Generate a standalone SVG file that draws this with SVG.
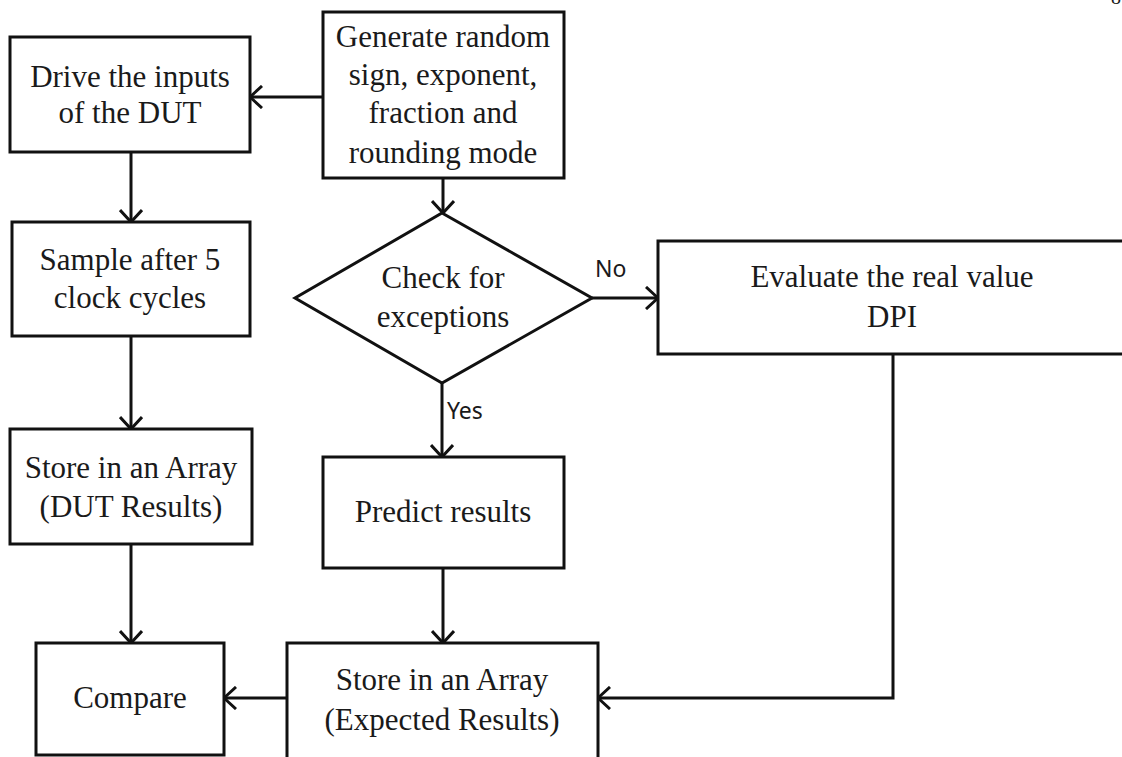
<svg xmlns="http://www.w3.org/2000/svg" width="1122" height="757" viewBox="0 0 1122 757">
  <style>
    .box { fill: #ffffff; stroke: #111111; stroke-width: 3; }
    .lbl { font-family: "Liberation Serif", "Times New Roman", serif; font-size: 31px; fill: #1a1a1a; text-anchor: middle; }
    .tag { font-family: "Noto Sans", "Open Sans", sans-serif; font-size: 23px; fill: #1a1a1a; }
    .wire { fill: none; stroke: #111111; stroke-width: 3; marker-end: url(#open); }
    .plain { fill: none; stroke: #111111; stroke-width: 3; }
  </style>
  <defs>
    <marker id="open" viewBox="0 0 14 24" refX="13" refY="12" markerWidth="14" markerHeight="24" markerUnits="userSpaceOnUse" orient="auto">
      <path d="M1,1 L13,12 L1,23" fill="none" stroke="#111111" stroke-width="3"/>
    </marker>
  </defs>

  <rect width="1122" height="757" fill="#ffffff"/>

  <!-- page number fragment -->
  <text x="1116" y="4" font-family="Liberation Serif, serif" font-size="20" fill="#1a1a1a" text-anchor="middle">8</text>

  <g id="connectors">
    <path class="wire" d="M323,97 L250,97"/>
    <path class="wire" d="M131,152 L131,222"/>
    <path class="wire" d="M131,336 L131,429"/>
    <path class="wire" d="M131,544 L131,643"/>
    <path class="wire" d="M443,178 L443,213"/>
    <path class="wire" d="M592,298 L658,298"/>
    <path class="wire" d="M442,383 L442,457"/>
    <path class="wire" d="M443,568 L443,643"/>
    <path class="wire" d="M893,354 L893,698 L598,698"/>
    <path class="wire" d="M287,698 L224,698"/>
    <text class="tag" x="595" y="277">No</text>
    <text class="tag" x="447" y="419">Yes</text>
  </g>

  <g id="drive">
    <rect class="box" x="10" y="37" width="240" height="115"/>
    <text class="lbl" x="130" y="87">Drive the inputs</text>
    <text class="lbl" x="130" y="123">of the DUT</text>
  </g>

  <g id="generate">
    <rect class="box" x="323" y="12" width="241" height="166"/>
    <text class="lbl" x="443" y="47">Generate random</text>
    <text class="lbl" x="443" y="85">sign, exponent,</text>
    <text class="lbl" x="443" y="123">fraction and</text>
    <text class="lbl" x="443" y="163">rounding mode</text>
  </g>

  <g id="sample">
    <rect class="box" x="12" y="222" width="238" height="114"/>
    <text class="lbl" x="130" y="270">Sample after 5</text>
    <text class="lbl" x="130" y="308">clock cycles</text>
  </g>

  <g id="check">
    <polygon class="box" points="442,213 592,298 442,383 295,298"/>
    <text class="lbl" x="443" y="288">Check for</text>
    <text class="lbl" x="443" y="327">exceptions</text>
  </g>

  <g id="evaluate">
    <rect class="box" x="658" y="241" width="480" height="113"/>
    <text class="lbl" x="892" y="287">Evaluate the real value</text>
    <text class="lbl" x="892" y="327">DPI</text>
  </g>

  <g id="store-dut">
    <rect class="box" x="10" y="429" width="242" height="115"/>
    <text class="lbl" x="131" y="478">Store in an Array</text>
    <text class="lbl" x="131" y="517">(DUT Results)</text>
  </g>

  <g id="predict">
    <rect class="box" x="323" y="457" width="241" height="111"/>
    <text class="lbl" x="443" y="522">Predict results</text>
  </g>

  <g id="compare">
    <rect class="box" x="36" y="643" width="188" height="112"/>
    <text class="lbl" x="130" y="708">Compare</text>
  </g>

  <g id="store-expected">
    <rect class="box" x="287" y="643" width="311" height="125"/>
    <text class="lbl" x="442" y="690">Store in an Array</text>
    <text class="lbl" x="442" y="730">(Expected Results)</text>
  </g>
</svg>
